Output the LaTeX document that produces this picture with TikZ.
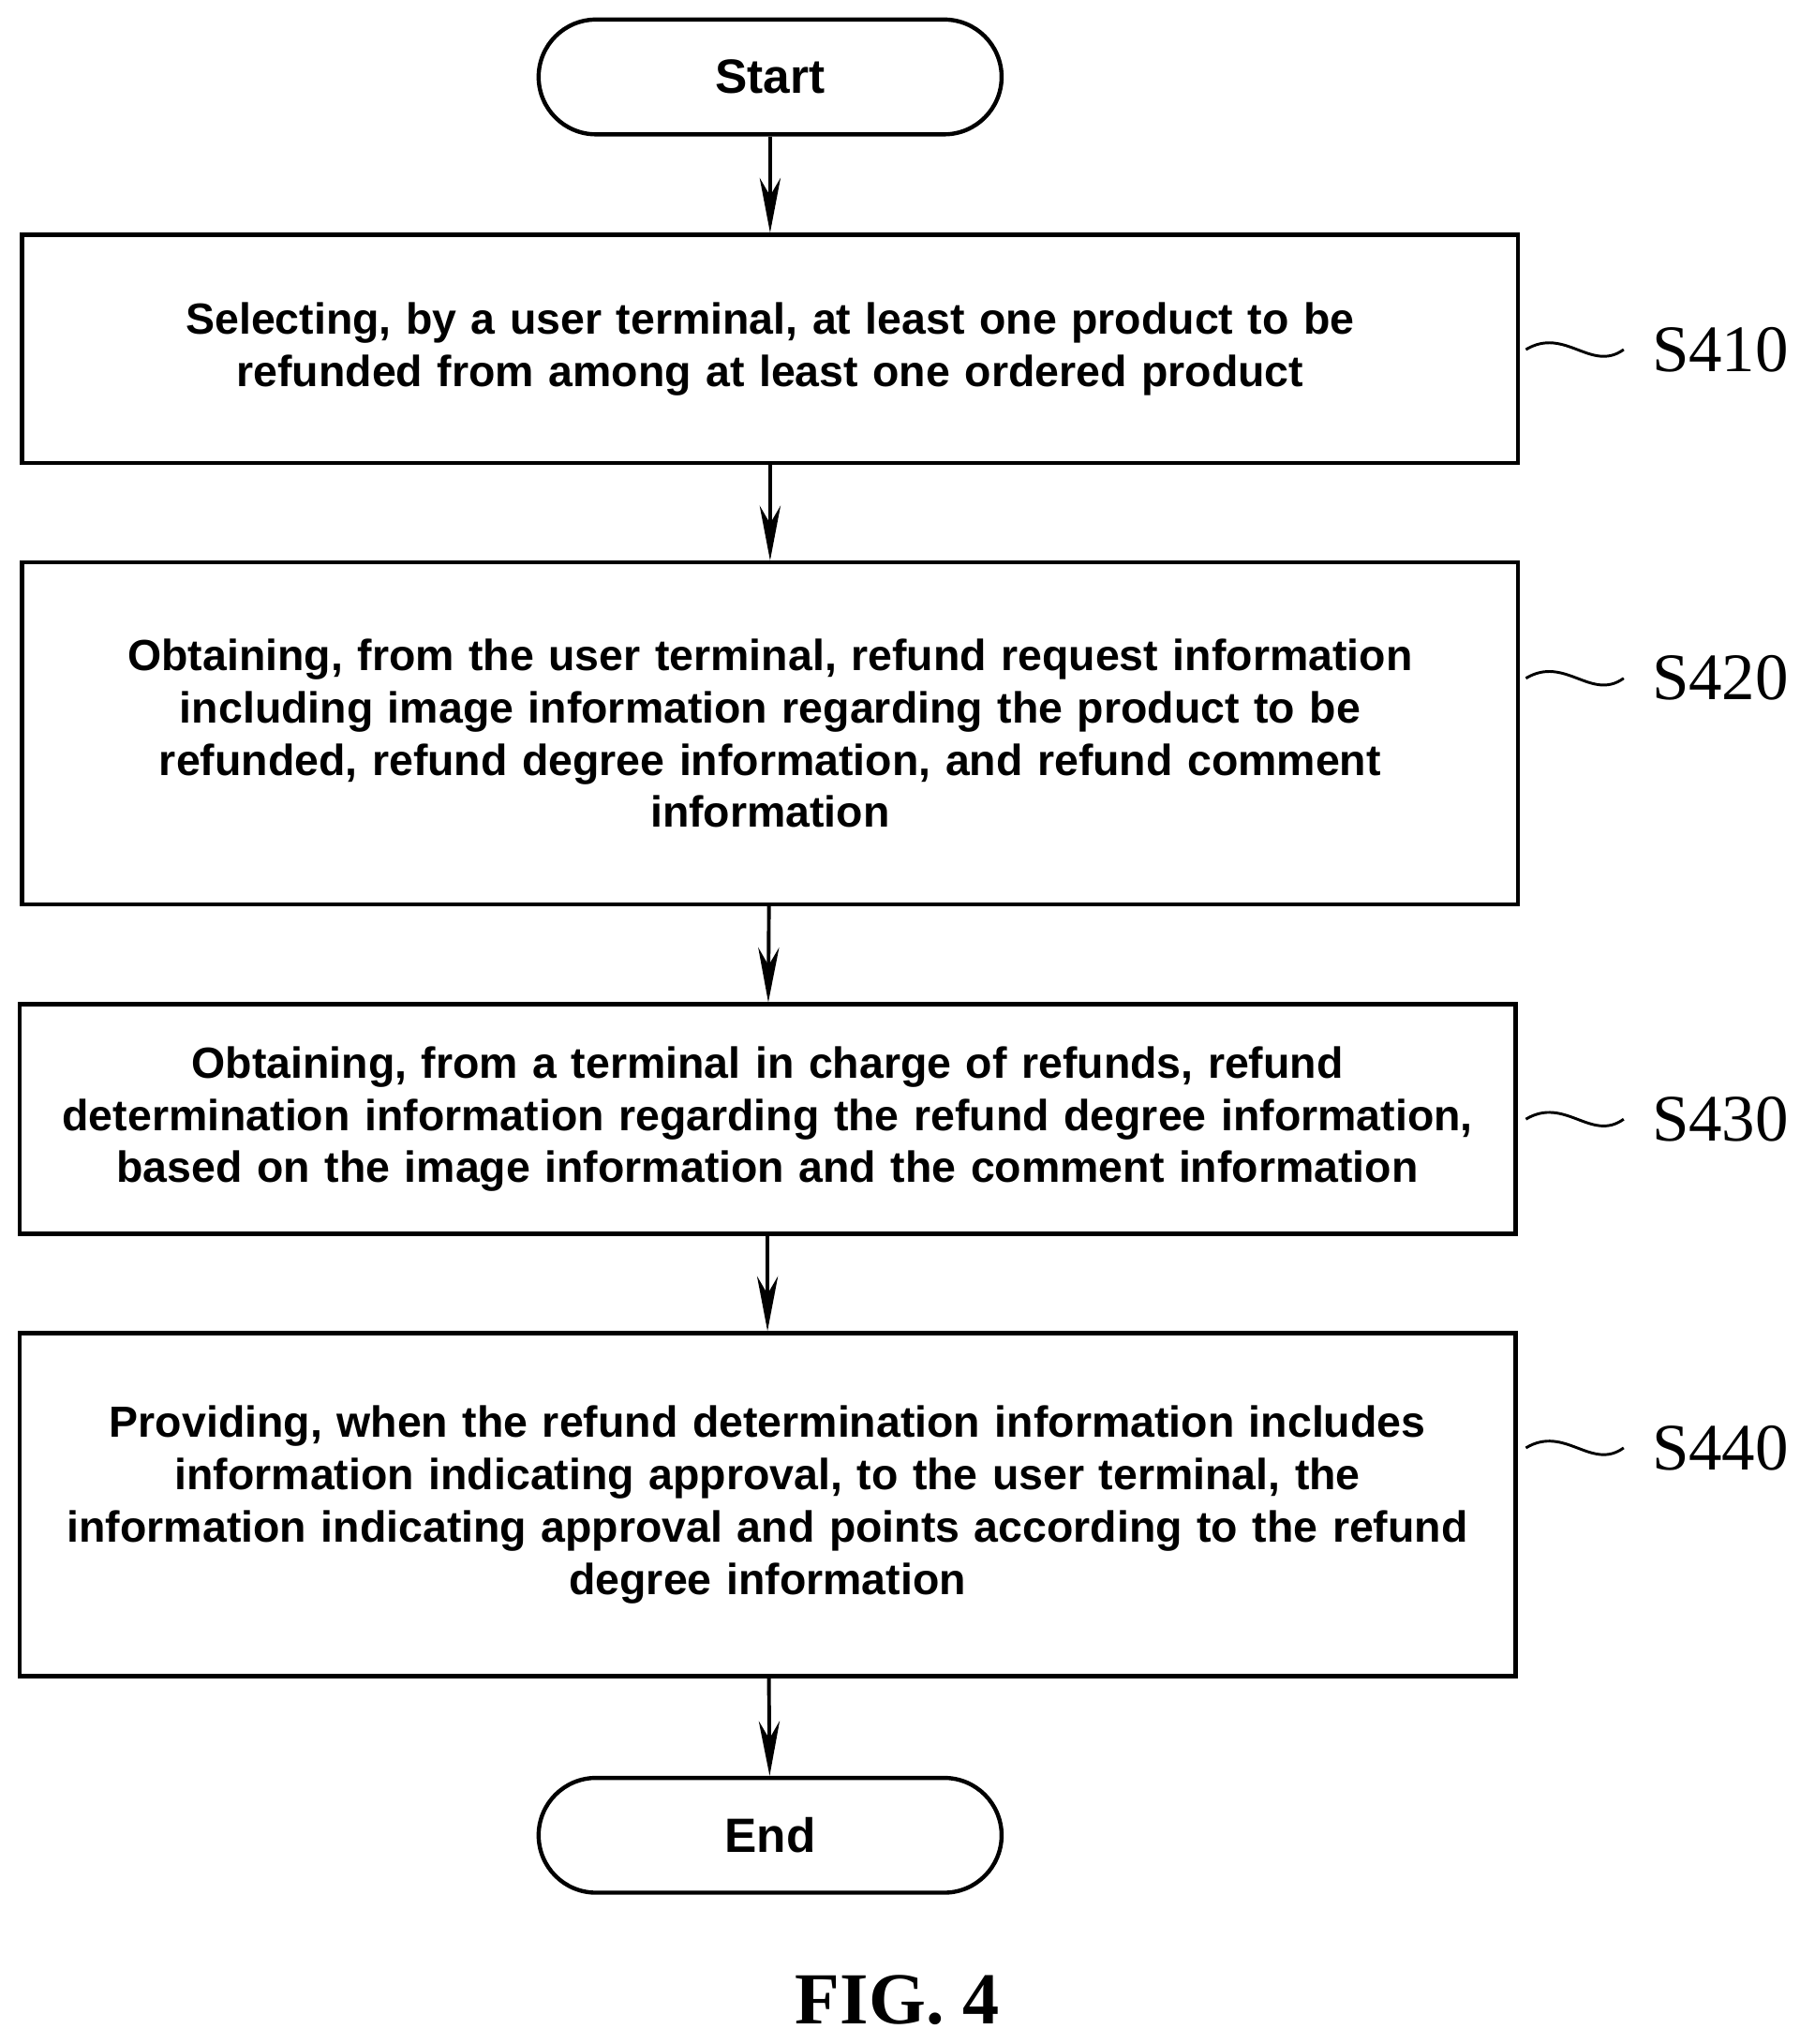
\documentclass[tikz,border=0pt]{standalone}
\usepackage{fontspec}
\setmainfont{Liberation Serif}
\newfontfamily\boxfont{Liberation Sans}
\usetikzlibrary{arrows.meta}
\tikzset{
  step/.style={draw,line width=0.9pt,minimum height=#1,text width=11.2cm,inner xsep=0.135cm,align=center,
    font=\boxfont\bfseries\fontsize{9.5}{11.4}\selectfont},
  term/.style={draw,line width=0.9pt,rounded corners=0.44cm,minimum width=3.55cm,minimum height=0.88cm,
    font=\boxfont\bfseries\fontsize{10.5}{13}\selectfont},
  flow/.style={line width=0.8pt,-{Stealth[length=0.42cm,width=0.16cm]}},
  tag/.style={font=\fontsize{14.5}{17}\selectfont,anchor=west,inner sep=0pt},
}
\begin{document}
\begin{tikzpicture}
  \useasboundingbox (0,0) rectangle (13.8,15.67);
  % steps
  \node[term] (start) at (5.905,15.08) {Start};
  \node[step=1.75cm] (s410) at (5.905,12.995) {Selecting, by a user terminal, at least one product to be\\refunded from among at least one ordered product};
  \node[step=2.62cm] (s420) at (5.905,10.047) {Obtaining, from the user terminal, refund request information\\including image information regarding the product to be\\refunded, refund degree information, and refund comment\\information};
  \node[step=1.76cm] (s430) at (5.885,7.09) {Obtaining, from a terminal in charge of refunds, refund\\determination information regarding the refund degree information,\\based on the image information and the comment information};
  \node[step=2.63cm] (s440) at (5.885,4.135) {Providing, when the refund determination information includes\\information indicating approval, to the user terminal, the\\information indicating approval and points according to the refund\\degree information};
  \node[term] (end) at (5.905,1.6) {End};

  \draw[flow] (start) -- (s410);
  \draw[flow] (s410) -- (s420);
  \draw[flow] (s420) -- (s430);
  \draw[flow] (s430) -- (s440);
  \draw[flow] (s440) -- (end);

  % step labels
  \foreach \s/\y in {410/12.99,420/10.47,430/7.09,440/4.57}{
    \node[tag] (l\s) at (12.66,\y) {S\s};
    \draw[line width=0.6pt] (11.7,\y) .. controls (12.0,\y+0.18) and (12.2,\y-0.18) .. (12.45,\y);
  }
  \node[font=\bfseries\fontsize{16}{20}\selectfont] (fig) at (6.88,0.34) {FIG. 4};
\end{tikzpicture}
\end{document}
